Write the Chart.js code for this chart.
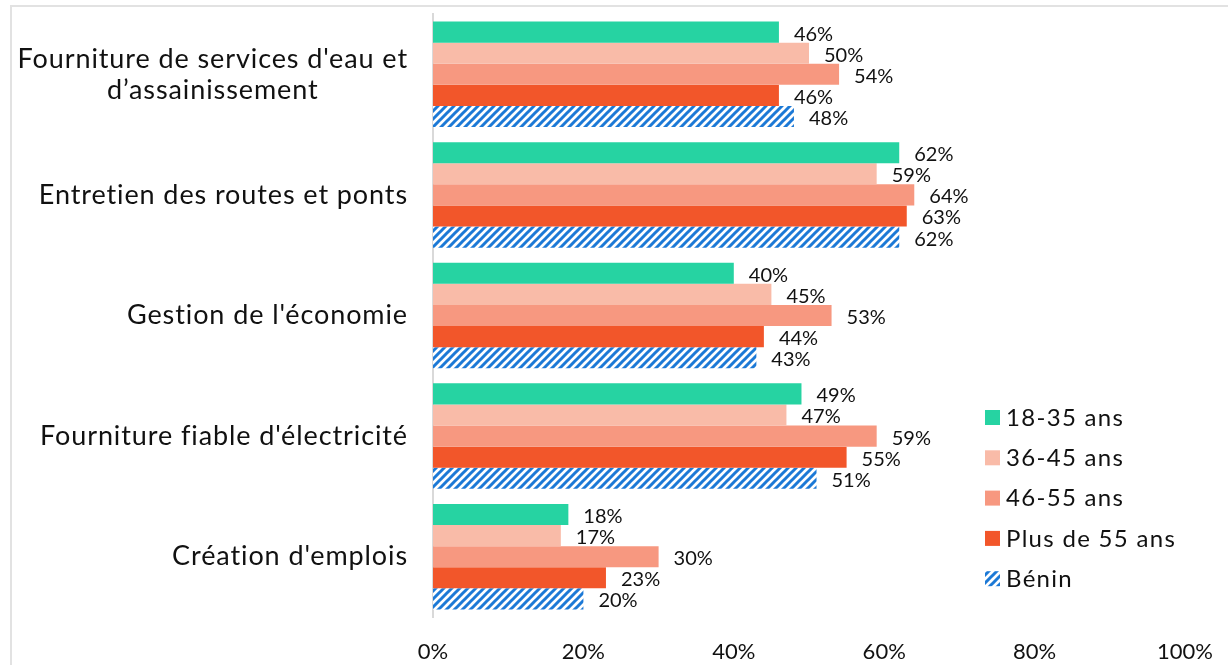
<!DOCTYPE html>
<html>
<head>
<meta charset="utf-8">
<script src="https://cdn.jsdelivr.net/npm/chart.js@4/dist/chart.umd.min.js"></script>
<style>
    body { margin: 0; background: #fff; overflow: hidden; }
    .wrap { position: relative; width: 1228px; height: 665px; overflow: hidden; }
    .frame { position: absolute; left: 10px; top: 5px; right: -30px; bottom: -30px;
             border-left: 2px solid #e2e2e2; border-top: 2px solid #e2e2e2; }
    #chart { position: absolute; left: 0; top: 0; }
</style>
</head>
<body>
<div class="wrap">
    <div class="frame"></div>
    <canvas id="chart" width="1228" height="665"></canvas>
</div>
<script>
const categories = [
    ["Fourniture de services d'eau et", "d\u2019assainissement"],
    ["Entretien des routes et ponts"],
    ["Gestion de l'\u00e9conomie"],
    ["Fourniture fiable d'\u00e9lectricit\u00e9"],
    ["Cr\u00e9ation d'emplois"]
];
const seriesNames = ['18-35 ans', '36-45 ans', '46-55 ans', 'Plus de 55 ans', 'B\u00e9nin'];

const age18_35 = [46, 62, 40, 49, 18];
const age36_45 = [50, 59, 45, 47, 17];
const age46_55 = [54, 64, 53, 59, 30];
const age55plus = [46, 63, 44, 55, 23];
const benin = [48, 62, 43, 51, 20];

const xTicks = [0, 20, 40, 60, 80, 100];

const FONT = "Lato, 'DejaVu Sans', sans-serif";
const TEXT = '#111111';

// hatched fill for Bénin
function hatch() {
    const c = document.createElement('canvas');
    c.width = 8; c.height = 8;
    const g = c.getContext('2d');
    g.fillStyle = '#ffffff';
    g.fillRect(0, 0, 8, 8);
    g.strokeStyle = '#1c79d6';
    g.lineWidth = 3;
    g.beginPath();
    g.moveTo(-2, 10); g.lineTo(10, -2);
    g.moveTo(-6, 6); g.lineTo(6, -6);
    g.moveTo(2, 14); g.lineTo(14, 2);
    g.stroke();
    return g.createPattern(c, 'repeat');
}

const colors = ['#26D3A2', '#F9BBA8', '#F79880', '#F2562A', hatch()];
const values = [age18_35, age36_45, age46_55, age55plus, benin];

const datasets = seriesNames.map((name, i) => ({
    label: name,
    data: values[i],
    backgroundColor: colors[i],
    borderWidth: 0,
    categoryPercentage: 0.875,
    barPercentage: 1.0
}));

const valueLabels = {
    id: 'valueLabels',
    afterDatasetsDraw(chart) {
        const ctx = chart.ctx;
        ctx.save();
        ctx.font = '20px ' + FONT;
        ctx.fillStyle = TEXT;
        ctx.textAlign = 'left';
        ctx.textBaseline = 'middle';
        chart.data.datasets.forEach((ds, di) => {
            chart.getDatasetMeta(di).data.forEach((bar, j) => {
                ctx.fillText(ds.data[j] + '%', bar.x + 15, bar.y + 2);
            });
        });
        ctx.restore();
    }
};

const categoryLabels = {
    id: 'categoryLabels',
    afterDraw(chart) {
        const ctx = chart.ctx;
        const y = chart.scales.y;
        ctx.save();
        ctx.font = '27px ' + FONT;
        ctx.letterSpacing = '0.9px';
        ctx.fillStyle = TEXT;
        ctx.textAlign = 'center';
        ctx.textBaseline = 'middle';
        const right = 408, lh = 31;
        categories.forEach((lines, i) => {
            const cy = y.getPixelForValue(i);
            const w = Math.max(...lines.map(l => ctx.measureText(l).width));
            const cx = right - w / 2;
            const top = cy - (lines.length - 1) * lh / 2;
            lines.forEach((l, k) => ctx.fillText(l, cx, top + k * lh));
        });
        ctx.restore();
    }
};

const sideLegend = {
    id: 'sideLegend',
    afterDraw(chart) {
        const ctx = chart.ctx;
        ctx.save();
        ctx.font = '24px ' + FONT;
        ctx.letterSpacing = '1.3px';
        ctx.textBaseline = 'middle';
        ctx.textAlign = 'left';
        chart.data.datasets.forEach((ds, i) => {
            const cy = 417 + i * 40.3;
            ctx.fillStyle = ds.backgroundColor;
            ctx.fillRect(985, cy - 7, 15, 15);
            ctx.fillStyle = TEXT;
            ctx.fillText(ds.label, 1006, cy + 1);
        });
        ctx.restore();
    }
};

new Chart(document.getElementById('chart').getContext('2d'), {
    type: 'bar',
    data: { labels: categories.map(c => c.join(' ')), datasets: datasets },
    options: {
        indexAxis: 'y',
        responsive: false,
        animation: false,
        devicePixelRatio: 1,
        layout: { padding: { top: 14, right: 43, left: 0, bottom: 0 } },
        plugins: {
            legend: { display: false },
            tooltip: { enabled: false }
        },
        scales: {
            y: {
                afterFit: s => { s.width = 433; },
                grid: { display: false },
                border: { color: '#d9d9d9', width: 2 },
                ticks: { display: false }
            },
            x: {
                min: 0,
                max: 100,
                afterFit: s => { s.height = 48; },
                afterBuildTicks: s => { s.ticks = xTicks.map(v => ({ value: v })); },
                grid: { display: false },
                border: { display: false },
                ticks: {
                    padding: 14,
                    color: TEXT,
                    font: { family: FONT, size: 22 },
                    callback: v => v + '%'
                }
            }
        }
    },
    plugins: [valueLabels, categoryLabels, sideLegend]
});
</script>
</body>
</html>
